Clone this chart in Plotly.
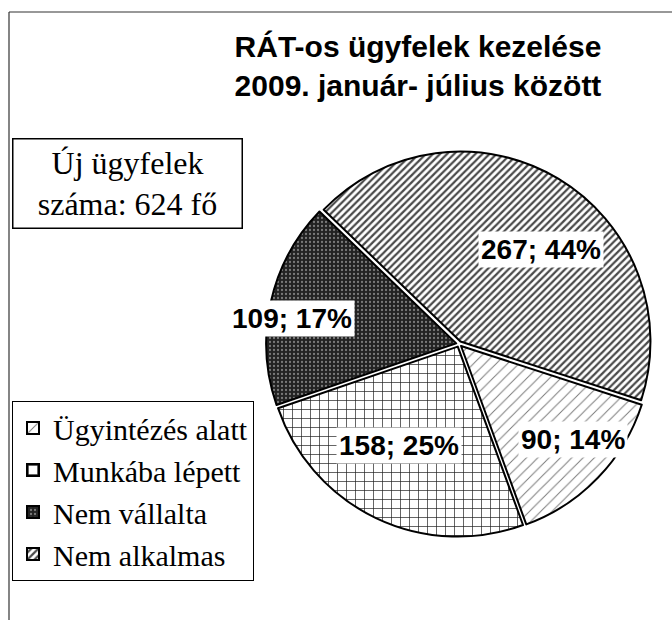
import math
import plotly.graph_objects as go

# ---- data ----
labels = ["Ügyintézés alatt", "Munkába lépett", "Nem vállalta", "Nem alkalmas"]
values = [90, 158, 109, 267]
percent_labels = ["14%", "25%", "17%", "44%"]
title_lines = ["RÁT-os ügyfelek kezelése", "2009. január- július között"]
total_text = ["Új ügyfelek", "száma: 624 fő"]

# ---- style ----
W, H = 672, 620
CX, CY, R = 459, 344, 190          # pie centre / radius in px
PULL = 0.015
ROTATION = 108                     # clockwise from 12 o'clock
bg_colors = ["white", "white", "#222222", "white"]
pat_shapes = ["/", "+", ".", "/"]
pat_fg = ["#7a7a7a", "#222222", "#7a7a7a", "#4a4a4a"]
pat_size = [8, 9, 4, 5]
pat_solid = [0.12, 0.15, 0.25, 0.45]
lab_rfrac = [0.78, 0.62, 0.89, 0.66]
lab_dang = [4, -5, 4, -10]         # small angular offsets (deg, math sense)


def px(x):
    return x / W


def py(y):
    return 1 - y / H


half = R * (1 + PULL)
fig = go.Figure()
fig.add_trace(go.Pie(
    labels=labels,
    values=values,
    sort=False,
    direction="clockwise",
    rotation=ROTATION,
    pull=[PULL] * len(values),
    textinfo="none",
    hoverinfo="label+value+percent",
    marker=dict(
        colors=bg_colors,
        line=dict(color="black", width=2),
        pattern=dict(shape=pat_shapes, fgcolor=pat_fg, bgcolor=bg_colors,
                     size=pat_size, solidity=pat_solid, fillmode="replace"),
    ),
    domain=dict(x=[px(CX - half), px(CX + half)], y=[py(CY + half), py(CY - half)]),
))

# data labels with white boxes, positioned from the cumulative slice angles
tot = sum(values)
start = ROTATION
for i, v in enumerate(values):
    sweep = v / tot * 360
    mid_clock = start + sweep / 2
    start += sweep
    ang = math.radians(90 - mid_clock + lab_dang[i])
    lx = CX + lab_rfrac[i] * R * math.cos(ang)
    ly = CY - lab_rfrac[i] * R * math.sin(ang)
    fig.add_annotation(
        x=px(lx), y=py(ly), xref="paper", yref="paper",
        xanchor="center", yanchor="middle",
        text=f"<b>{v}; {percent_labels[i]}</b>", showarrow=False,
        font=dict(family="Liberation Sans", size=28, color="black"),
        bgcolor="white", borderpad=2,
    )

# "new clients" box
fig.add_annotation(
    x=px(127), y=py(183), xref="paper", yref="paper",
    xanchor="center", yanchor="middle",
    text="<br>".join(total_text), showarrow=False,
    font=dict(family="Liberation Serif", size=32, color="black"),
    bgcolor="white", bordercolor="black", borderwidth=1.5, borderpad=2,
    width=224, height=84, align="center", valign="middle",
)

# frame lines (left and top)
fig.add_shape(type="line", xref="paper", yref="paper", x0=px(9), x1=1, y0=py(12), y1=py(12),
              line=dict(color="#333", width=1.2))
fig.add_shape(type="line", xref="paper", yref="paper", x0=px(9), x1=px(9), y0=py(12), y1=0,
              line=dict(color="#333", width=1.2))

fig.update_layout(
    width=W, height=H,
    margin=dict(l=0, r=0, t=0, b=0),
    paper_bgcolor="white", plot_bgcolor="white",
    title=dict(
        text="<b>" + "<br>".join(title_lines) + "</b>",
        x=px(418), xanchor="center", y=py(57), yanchor="middle",
        font=dict(family="Liberation Sans", size=30, color="black"),
    ),
    showlegend=True,
    legend=dict(
        x=px(12), y=py(401), xanchor="left", yanchor="top",
        font=dict(family="Liberation Serif", size=30, color="black"),
        bgcolor="white", bordercolor="black", borderwidth=1,
        traceorder="normal", itemwidth=30,
    ),
)

fig.write_html("out.html", config={"displayModeBar": False},
               post_script="document.body.style.margin='0px';")
